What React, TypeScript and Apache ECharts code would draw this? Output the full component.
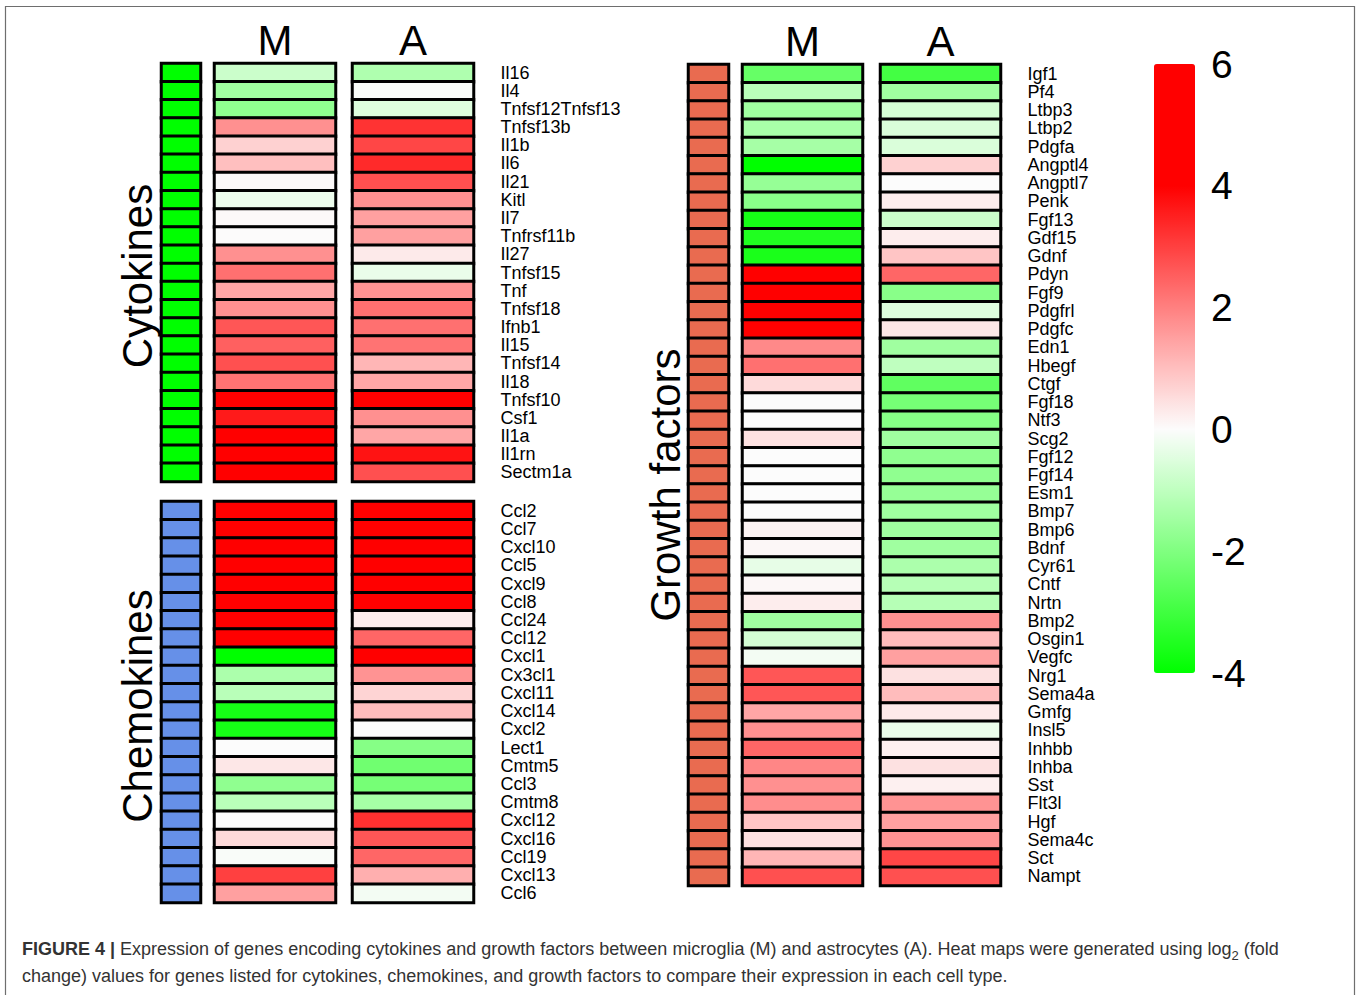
import React, { useEffect, useRef } from 'react';
import * as echarts from 'echarts';

// ---------- data ----------
const conditions = ['M', 'A'];

const cytokineGenes = ['Il16', 'Il4', 'Tnfsf12Tnfsf13', 'Tnfsf13b', 'Il1b', 'Il6', 'Il21', 'Kitl', 'Il7', 'Tnfrsf11b', 'Il27', 'Tnfsf15', 'Tnf', 'Tnfsf18', 'Ifnb1', 'Il15', 'Tnfsf14', 'Il18', 'Tnfsf10', 'Csf1', 'Il1a', 'Il1rn', 'Sectm1a'];
const cytokineM = [-0.8, -1.5, -1.75, 1.75, 0.7, 1.0, 0.05, -0.25, 0.05, 0.02, 1.75, 2.25, 1.4, 1.75, 2.65, 2.5, 2.75, 2.2, 4.5, 3.6, 4.5, 4.2, 4.5];
const cytokineA = [-1.25, -0.05, -0.5, 3.2, 2.9, 3.35, 2.75, 1.75, 1.5, 1.5, 0.3, -0.3, 1.7, 2.25, 2.25, 2.2, 1.15, 1.4, 4.2, 1.75, 1.4, 3.7, 2.75];

const chemokineGenes = ['Ccl2', 'Ccl7', 'Cxcl10', 'Ccl5', 'Cxcl9', 'Ccl8', 'Ccl24', 'Ccl12', 'Cxcl1', 'Cx3cl1', 'Cxcl11', 'Cxcl14', 'Cxcl2', 'Lect1', 'Cmtm5', 'Ccl3', 'Cmtm8', 'Cxcl12', 'Cxcl16', 'Ccl19', 'Cxcl13', 'Ccl6'];
const chemokineM = [5, 5, 5, 5, 5, 5, 4.5, 4.5, -4, -1.3, -1.1, -3.65, -3.65, 0, 0.35, -1.75, -1.1, 0, 0.55, -0.05, 3.0, 1.5];
const chemokineA = [5, 5, 5, 5, 5, 5, 0.25, 2.4, 4.5, 1.7, 0.65, 1.05, 0, -1.9, -2.25, -2.15, -1.4, 3.25, 2.65, 2.4, 1.25, -0.15];

const growthGenes = ['Igf1', 'Pf4', 'Ltbp3', 'Ltbp2', 'Pdgfa', 'Angptl4', 'Angptl7', 'Penk', 'Fgf13', 'Gdf15', 'Gdnf', 'Pdyn', 'Fgf9', 'Pdgfrl', 'Pdgfc', 'Edn1', 'Hbegf', 'Ctgf', 'Fgf18', 'Ntf3', 'Scg2', 'Fgf12', 'Fgf14', 'Esm1', 'Bmp7', 'Bmp6', 'Bdnf', 'Cyr61', 'Cntf', 'Nrtn', 'Bmp2', 'Osgin1', 'Vegfc', 'Nrg1', 'Sema4a', 'Gmfg', 'Insl5', 'Inhbb', 'Inhba', 'Sst', 'Flt3l', 'Hgf', 'Sema4c', 'Sct', 'Nampt'];
const growthM = [-2.4, -1.1, -1.5, -1.35, -1.4, -4, -1.65, -1.85, -3.65, -3.5, -3.6, 4.5, 4.5, 4.5, 4.5, 1.85, 2.25, 0.55, 0, 0, 0.45, 0, 0, 0, 0, 0.15, 0.08, -0.35, 0.08, 0.25, -1.5, -0.65, -0.15, 2.65, 2.65, 1.4, 1.75, 2.4, 1.9, 1.75, 1.8, 0.9, 0.45, 1.15, 2.75];
const growthA = [-2.95, -1.5, -0.65, -0.55, -0.55, 0.7, 0, 0.25, -0.8, 0.25, 0.9, 2.4, -1.85, -0.5, 0.35, -1.5, -1.0, -2.5, -2.15, -1.9, -1.5, -1.75, -1.75, -1.65, -1.5, -1.5, -1.5, -1.3, -1.15, -1.15, 1.75, 1.05, 1.5, 0.45, 1.05, 0.3, -0.3, 0.2, 0.45, 0.2, 1.7, 1.5, 1.7, 2.9, 2.75];

const panelTitles = ['Cytokines', 'Chemokines', 'Growth factors'];
const scaleMin = -4;
const scaleMax = 6;
const scaleStep = 2;

const captionBold = 'FIGURE 4 |';
const captionLine1 = ' Expression of genes encoding cytokines and growth factors between microglia (M) and astrocytes (A). Heat maps were generated using log';
const captionSub = '2';
const captionLine1End = ' (fold';
const captionLine2 = 'change) values for genes listed for cytokines, chemokines, and growth factors to compare their expression in each cell type.';

// ---------- styles ----------
const FONT = '"Liberation Sans", Arial, Helvetica, sans-serif';
const scaleColors = ['#00FF00', '#40FF40', '#80FF80', '#BFFFBF', '#FCFCFC', '#FFBFBF', '#FF8080', '#FF4040', '#FF0000', '#FF0000', '#FF0000'];
const stripColors = ['#00FF00', '#6690E8', '#E96B50'];

export default function App() {
  const ref = useRef<HTMLDivElement>(null);

  useEffect(() => {
    document.body.style.margin = '0';
    const chart = echarts.init(ref.current!, null, { renderer: 'svg' });

    const panels = [
      { genes: cytokineGenes, values: [cytokineM, cytokineA], top: 63.5, height: 418, cols: [[161.5, 39], [214.5, 121], [352.5, 121]], header: true },
      { genes: chemokineGenes, values: [chemokineM, chemokineA], top: 501.5, height: 401, cols: [[161.5, 39], [214.5, 121], [352.5, 121]], header: false },
      { genes: growthGenes, values: [growthM, growthA], top: 64.5, height: 821, cols: [[688.5, 40], [742.5, 120], [880.5, 120]], header: true },
    ];

    const grid: any[] = [];
    const xAxis: any[] = [];
    const yAxis: any[] = [];
    const series: any[] = [];
    const valueSeries: number[] = [];
    const stripSeries: number[] = [];

    panels.forEach((p, pi) => {
      p.cols.forEach(([left, width], ci) => {
        const gi = grid.length;
        const isStrip = ci === 0;
        grid.push({ left, top: p.top, width, height: p.height });
        xAxis.push({
          type: 'category',
          gridIndex: gi,
          data: isStrip ? [''] : [conditions[ci - 1]],
          position: 'top',
          show: p.header && !isStrip,
          axisLine: { show: false },
          axisTick: { show: false },
          axisLabel: { fontSize: 42, margin: 23, color: '#000', fontFamily: FONT, verticalAlign: 'middle' },
        });
        yAxis.push({
          type: 'category',
          gridIndex: gi,
          data: p.genes,
          inverse: true,
          position: 'right',
          show: ci === 2,
          axisLine: { show: false },
          axisTick: { show: false },
          axisLabel: { interval: 0, fontSize: 18, lineHeight: 17, margin: 27, color: '#000', fontFamily: FONT },
        });
        if (isStrip) stripSeries.push(series.length);
        else valueSeries.push(series.length);
        series.push({
          type: 'heatmap',
          xAxisIndex: gi,
          yAxisIndex: gi,
          silent: true,
          data: p.genes.map((g, i) => [0, i, isStrip ? pi : p.values[ci - 1][i]]),
          itemStyle: { borderColor: '#000', borderWidth: 3 },
          emphasis: { disabled: true },
        });
      });
    });

    // colour-bar tick axis
    const cg = grid.length;
    grid.push({ left: 1154, top: 64, width: 41, height: 609 });
    xAxis.push({ type: 'value', gridIndex: cg, show: false });
    yAxis.push({
      type: 'value',
      gridIndex: cg,
      min: scaleMin,
      max: scaleMax,
      interval: scaleStep,
      position: 'right',
      axisLine: { show: false },
      axisTick: { show: false },
      splitLine: { show: false },
      axisLabel: { fontSize: 39, margin: 16, color: '#000', fontFamily: FONT },
    });
    series.push({ type: 'scatter', xAxisIndex: cg, yAxisIndex: cg, data: [], silent: true });

    chart.setOption({
      animation: false,
      backgroundColor: '#fff',
      textStyle: { fontFamily: FONT },
      grid,
      xAxis,
      yAxis,
      series,
      visualMap: [
        {
          type: 'continuous',
          seriesIndex: valueSeries,
          min: scaleMin,
          max: scaleMax,
          left: 1154,
          top: 64,
          itemWidth: 41,
          itemHeight: 609,
          padding: 0,
          calculable: false,
          hoverLink: false,
          inRange: { color: scaleColors },
        },
        {
          type: 'piecewise',
          show: false,
          seriesIndex: stripSeries,
          pieces: stripColors.map((c, i) => ({ value: i, color: c })),
        },
      ],
      graphic: [
        {
          type: 'rect',
          shape: { x: 5.5, y: 6.5, width: 1349, height: 1000 },
          style: { fill: 'none', stroke: '#6e6e6e', lineWidth: 1.2 },
          silent: true,
        },
        {
          type: 'text', x: 137, y: 276, rotation: Math.PI / 2,
          style: { text: panelTitles[0], font: `42px ${FONT}`, fill: '#000', textAlign: 'center', textVerticalAlign: 'middle' },
        },
        {
          type: 'text', x: 137, y: 706, rotation: Math.PI / 2,
          style: { text: panelTitles[1], font: `42px ${FONT}`, fill: '#000', textAlign: 'center', textVerticalAlign: 'middle' },
        },
        {
          type: 'text', x: 665, y: 485, rotation: Math.PI / 2,
          style: { text: panelTitles[2], font: `42px ${FONT}`, fill: '#000', textAlign: 'center', textVerticalAlign: 'middle' },
        },
        {
          type: 'text', x: 22, y: 935,
          style: {
            text: `{b|${captionBold}}${captionLine1}{sub|${captionSub}}${captionLine1End}\n${captionLine2}`,
            fontSize: 18,
            fontFamily: FONT,
            fill: '#333',
            lineHeight: 27,
            rich: {
              b: { fontWeight: 'bold', fontSize: 18, fontFamily: FONT, fill: '#333', lineHeight: 27 },
              sub: { fontSize: 13, fontFamily: FONT, fill: '#333', lineHeight: 13, verticalAlign: 'bottom' },
            },
          },
        },
      ],
    });

    return () => chart.dispose();
  }, []);

  return <div ref={ref} style={{ width: 1360, height: 995 }} />;
}
